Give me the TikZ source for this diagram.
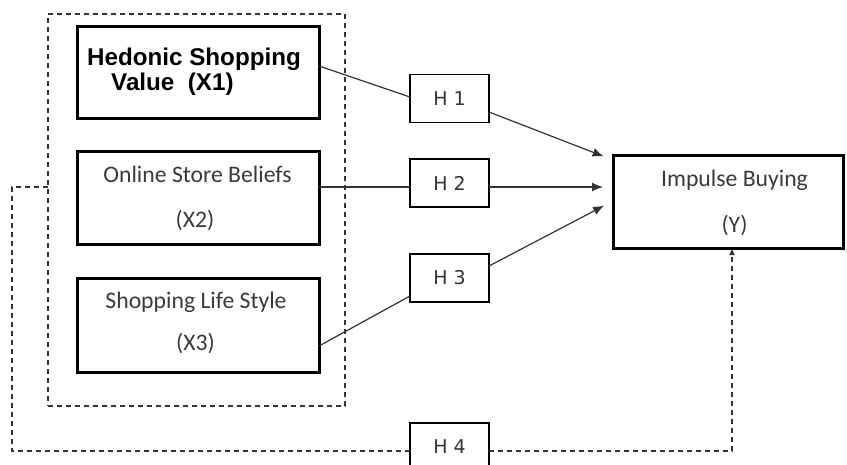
\documentclass[tikz,border=0pt]{standalone}
\usepackage{fontspec}
\setmainfont{Carlito}
\newfontfamily\arialf{Liberation Sans}
\newfontfamily\dejaf{DejaVu Sans}
\usetikzlibrary{arrows.meta}
\definecolor{txt}{HTML}{3A3A3A}
\definecolor{ln}{HTML}{333333}
\begin{document}
\begin{tikzpicture}[x=1pt,y=-1pt,
  bigbox/.style={draw=black,line width=3pt,rectangle,inner sep=0pt,outer sep=0pt},
  hbox/.style={draw=black,line width=1.6pt,rectangle,minimum width=79pt,minimum height=48pt,inner sep=0pt,outer sep=0pt},
  lbl/.style={text=txt,font=\fontsize{23.7}{28}\selectfont,inner sep=0pt,anchor=base},
  boldlbl/.style={text=black,font=\arialf\bfseries\fontsize{24.2}{28}\selectfont,inner sep=0pt,anchor=base},
  hlbl/.style={text=ln,font=\dejaf\fontsize{19}{22}\selectfont,inner sep=0pt},
  conn/.style={draw=ln,line width=1.2pt},
  arr/.style={conn,-{Latex[length=11pt,width=9pt]},shorten >=10pt},
  dashline/.style={draw=ln,line width=1.3pt,dash pattern=on 5pt off 4pt},
]
\useasboundingbox (0,0) rectangle (847,464);

% dashed group
\node[dashline,rectangle,minimum width=297pt,minimum height=392pt,inner sep=0pt,outer sep=0pt] (grp) at (196.5,210) {};

% left boxes
\node[bigbox,minimum width=242pt,minimum height=92pt] (x1) at (198,72) {};
\node[bigbox,minimum width=242pt,minimum height=93pt] (x2) at (198,198) {};
\node[bigbox,minimum width=242pt,minimum height=94pt] (x3) at (198,325) {};

% dependent box
\node[bigbox,minimum width=230pt,minimum height=93pt] (yb) at (728,201.5) {};

% hypothesis boxes
\node[hbox] (h1) at (449.5,98.5) {};
\node[hbox] (h2) at (449.5,183) {};
\node[hbox] (h3) at (449.5,278) {};
\node[hbox] (h4) at (449.5,447) {};

% texts
\node[boldlbl] (t1a) at (194,65) {Hedonic Shopping};
\node[boldlbl,anchor=base west] (t1b) at (111,90) {Value\ \ (X1)};
\node[lbl] (t2a) at (197.5,182) {Online Store Beliefs};
\node[lbl] (t2b) at (195,227) {(X2)};
\node[lbl] (t3a) at (196,308) {Shopping Life Style};
\node[lbl] (t3b) at (195.5,350) {(X3)};
\node[lbl] (tya) at (734.5,186) {Impulse Buying};
\node[lbl] (tyb) at (734.5,232) {(Y)};
\node[hlbl] (l1) at (h1) {H 1};
\node[hlbl] (l2) at (h2) {H 2};
\node[hlbl] (l3) at (h3) {H 3};
\node[hlbl] (l4) at (h4) {H 4};

% connectors
\draw[conn] (x1.east |- 0,66) -- (h1.west |- 0,97);
\draw[conn] (x2.east |- 0,187) -- (h2.west |- 0,187);
\draw[conn] (x3.east |- 0,346) -- (h3.west |- 0,296);
\draw[arr] (h1.east |- 0,112) -- (yb.west |- 0,160);
\draw[arr] (h2.east |- 0,187) -- (yb.west |- 0,187);
\draw[arr] (h3.east |- 0,266) -- (yb.west |- 0,201);

% H4 dashed loop
\draw[dashline] (grp.west |- 0,187) -- (12,187) -- (12,451) -- (h4.west |- 0,451);
\draw[dashline,-{Latex[length=7pt,width=6pt]}] (h4.east |- 0,451) -- (732,451) -- (yb.south -| 732,0);
\end{tikzpicture}
\end{document}
